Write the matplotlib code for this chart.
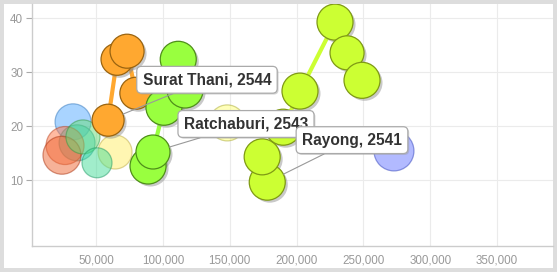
#!/usr/bin/env python3
"""Bubble chart with trails: province income vs. value, by Buddhist-era year."""
import matplotlib
matplotlib.use("Agg")
import matplotlib.pyplot as plt
import matplotlib.patheffects as pe
from matplotlib.patches import Rectangle
import numpy as np

plt.rcParams["font.family"] = ["Liberation Sans", "DejaVu Sans"]

# ---- data ----
# highlighted provinces (opaque, with trails), points in trail order
surat_x = [79800, 73200, 65700, 59000]
surat_y = [26.1, 33.9, 32.4, 21.1]
surat_s = [16, 17, 16, 16]

ratch_x = [88900, 92600, 100800, 116600, 111500]
ratch_y = [12.6, 15.2, 23.5, 26.7, 32.4]
ratch_s = [18, 17, 18, 18, 18]

rayong_x = [178100, 174300, 190000, 202600, 228800, 237800, 249000]
rayong_y = [9.6, 14.3, 19.8, 26.5, 39.3, 33.6, 28.5]
rayong_s = [18, 18, 18, 18, 18, 17, 18]

# other provinces (faded)
other_x = [148100, 64200, 32800, 35800, 26800, 24500, 40200, 50700, 272900]
other_y = [20.6, 15.2, 20.8, 16.9, 16.4, 14.6, 18.0, 13.2, 15.4]
other_s = [18, 17, 18, 18, 19, 19, 17, 15, 20]
other_c = ["#ffff77", "#ffee66", "#55aaff", "#33cccc", "#ff7744",
           "#ee6633", "#66dd77", "#44dd99", "#6677ff"]
other_e = ["#aaaa33", "#bbaa44", "#3377bb", "#228888", "#bb4422",
           "#aa3311", "#339944", "#229966", "#3344bb"]

labels = ["Surat Thani, 2544", "Ratchaburi, 2543", "Rayong, 2541"]
label_idx = [3, 1, 0]          # which trail point carries the label
label_xy = [(133000, 28.6), (162200, 20.4), (241500, 17.4)]

xticks = [50000, 100000, 150000, 200000, 250000, 300000, 350000]
yticks = [10, 20, 30, 40]

W, H = 557, 272
fig = plt.figure(figsize=(W / 100, H / 100), dpi=100, facecolor="#dddddd")
fig.patches.append(Rectangle((4 / W, 4 / H), (W - 8) / W, (H - 8) / H,
                             transform=fig.transFigure, facecolor="white",
                             edgecolor="none", zorder=-10))
ax = fig.add_axes([31.5 / W, (H - 246) / H, (553 - 31.5) / W, (246 - 4) / H])
ax.set_xlim(1700, 391900)
ax.set_ylim(-2.24, 42.66)
ax.set_facecolor("white")


def area(r):
    return (2 * np.asarray(r) * 0.72) ** 2


# faded bubbles
ax.scatter(other_x, other_y, s=area(other_s), c=other_c, alpha=0.5,
           edgecolors=other_e, linewidths=0.9, zorder=2)

shadow = [pe.SimplePatchShadow(offset=(1.8, -1.8), shadow_rgbFace="#888888", alpha=0.45),
          pe.Normal()]
series = [
    (surat_x, surat_y, surat_s, "#ffa830", "#9a6410", True),
    (ratch_x, ratch_y, ratch_s, "#99ff3f", "#4f8f1a", False),
    (rayong_x, rayong_y, rayong_s, "#ccff33", "#7f9a14", False),
]
for x, y, sz, fc, ec, rev in series:
    ax.plot(x, y, color=fc, lw=3, solid_capstyle="round", zorder=3)
    order = slice(None, None, -1) if rev else slice(None)
    ax.scatter(x[order], y[order], s=area(sz[order]), c=fc, edgecolors=ec,
               linewidths=0.9, zorder=4, path_effects=shadow)

box_shadow = [pe.SimplePatchShadow(offset=(1, -1), shadow_rgbFace="#999999", alpha=0.4),
              pe.Normal()]
for (x, y, sz, fc, ec, _), lab, i, (lx, ly) in zip(series, labels, label_idx, label_xy):
    t = ax.annotate(lab, xy=(x[i], y[i]), xytext=(lx, ly), textcoords="data",
                    ha="center", va="center", fontsize=11.2, fontweight="bold",
                    color="#333333", zorder=6,
                    bbox=dict(boxstyle="round,pad=0.38,rounding_size=0.3",
                              facecolor="white", edgecolor="#aaaaaa", linewidth=0.9),
                    arrowprops=dict(arrowstyle="-", color="#999999", lw=0.8,
                                    shrinkA=0, shrinkB=sz[i] * 0.72))
    t.get_bbox_patch().set_path_effects(box_shadow)

ax.set_xticks(xticks)
ax.set_xticklabels([f"{v:,}" for v in xticks])
ax.set_yticks(yticks)
ax.grid(True, color="#ebebeb", lw=0.8, zorder=0)
ax.set_axisbelow(True)
for side in ("top", "right"):
    ax.spines[side].set_visible(False)
for side in ("left", "bottom"):
    ax.spines[side].set_color("#cccccc")
    ax.spines[side].set_linewidth(1)
ax.tick_params(axis="x", length=0, pad=6, labelsize=8.4, labelcolor="#999999")
ax.tick_params(axis="y", length=4, width=0.8, color="#aaaaaa", pad=2,
               labelsize=8.4, labelcolor="#999999")

fig.savefig("out.png", dpi=100, facecolor=fig.get_facecolor())
